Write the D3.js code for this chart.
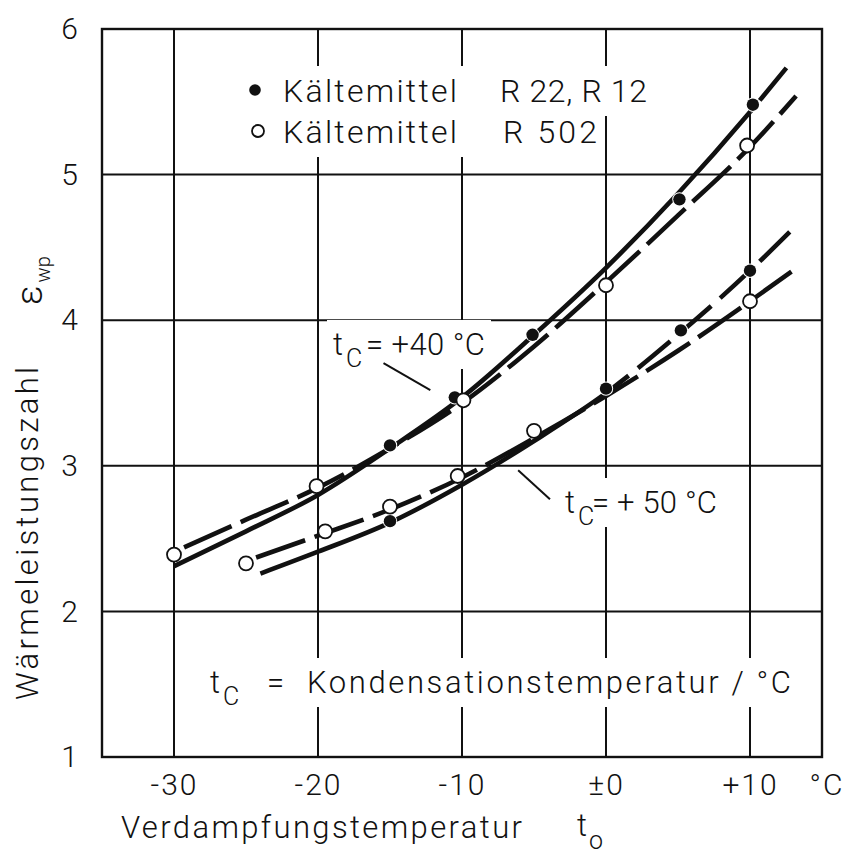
<!DOCTYPE html>
<html>
<head>
<meta charset="utf-8">
<script src="https://cdn.jsdelivr.net/npm/d3@7"></script>
<style>
  body { margin: 0; background: #fff; }
  svg text { font-family: Roboto, "DejaVu Sans", sans-serif; font-weight: 300; fill: #111; }
</style>
</head>
<body>
<svg id="chart" width="852" height="861"></svg>
<script>
// ---- data ----------------------------------------------------------------
// evaporation temperature t0 (°C) -> heat pump coefficient of performance
const xTicks = [-30, -20, -10, 0, 10];
const xTickLabels = ["-30", "-20", "-10", "±0", "+10"];
const yTicks = [1, 2, 3, 4, 5, 6];

// fitted curves, tc = +40 °C
const c40R22X  = [-30, -25, -20, -15, -10, -5, 0, 5, 10, 13];
const c40R22Y  = [2.31, 2.55, 2.80, 3.12, 3.47, 3.90, 4.36, 4.87, 5.43, 5.79];
const c40R502X = [-29.3, -25, -20, -15, -10, -5, 0, 5, 10, 13.2];
const c40R502Y = [2.44, 2.63, 2.85, 3.12, 3.43, 3.82, 4.26, 4.72, 5.19, 5.54];
// fitted curves, tc = +50 °C
const c50R22X  = [-24, -20, -15, -10, -5, 0, 5, 10, 12.9];
const c50R22Y  = [2.26, 2.41, 2.61, 2.87, 3.17, 3.50, 3.90, 4.34, 4.62];
const c50R502X = [-24.3, -20, -15, -10, -5, 0, 5, 10, 13.1];
const c50R502Y = [2.37, 2.52, 2.70, 2.92, 3.19, 3.48, 3.79, 4.13, 4.35];

// measured points, R 22 / R 12 (filled)
const p40R22X  = [-15, -10.5, -5.1, 5.1, 10.2];
const p40R22Y  = [3.14, 3.47, 3.90, 4.83, 5.48];
const p50R22X  = [-15, 0, 5.2, 10];
const p50R22Y  = [2.62, 3.53, 3.93, 4.34];
// measured points, R 502 (open)
const p40R502X = [-30, -20.1, -9.9, 0, 9.8];
const p40R502Y = [2.39, 2.86, 3.45, 4.24, 5.20];
const p50R502X = [-25, -19.5, -15, -10.3, -5, 10];
const p50R502Y = [2.33, 2.55, 2.72, 2.93, 3.24, 4.13];

// ---- setup ---------------------------------------------------------------
const svg = d3.select("#chart");
const x = d3.scaleLinear().domain([-35, 15]).range([102, 822]);
const y = d3.scaleLinear().domain([1, 6]).range([757, 29]);
const zip = (xs, ys) => xs.map((v, i) => [v, ys[i]]);

const gGrid = svg.append("g");
const gKnock = svg.append("g");
const gCurves = svg.append("g");
const gMarks = svg.append("g");
const gText = svg.append("g");

// grid
gGrid.selectAll("line.v").data(xTicks).join("line")
  .attr("x1", d => x(d)).attr("x2", d => x(d))
  .attr("y1", y(1)).attr("y2", y(6))
  .attr("stroke", "#111").attr("stroke-width", 2);
gGrid.selectAll("line.h").data(yTicks.slice(1, -1)).join("line")
  .attr("x1", x(-35)).attr("x2", x(15))
  .attr("y1", d => y(d)).attr("y2", d => y(d))
  .attr("stroke", "#111").attr("stroke-width", 2);
gGrid.append("rect")
  .attr("x", x(-35)).attr("y", y(6))
  .attr("width", x(15) - x(-35)).attr("height", y(1) - y(6))
  .attr("fill", "none").attr("stroke", "#111").attr("stroke-width", 2.4);

// axes (labels only)
const xAxis = d3.axisBottom(x).tickValues(xTicks)
  .tickFormat((d, i) => xTickLabels[i]).tickSize(0).tickPadding(17);
const gx = svg.append("g").attr("transform", `translate(0,${y(1)})`).call(xAxis);
gx.select(".domain").remove();
gx.selectAll("text").attr("font-size", 30).attr("font-family", null)
  .attr("letter-spacing", 2).attr("fill", "#111");
gx.append("text").attr("x", 827).attr("y", 17).attr("dy", "0.71em")
  .attr("text-anchor", "middle").attr("font-size", 30).attr("letter-spacing", 2)
  .text("°C");

const yAxis = d3.axisLeft(y).tickValues(yTicks).tickSize(0).tickPadding(24)
  .tickFormat(d3.format("d"));
const gy = svg.append("g").attr("transform", `translate(${x(-35)},0)`).call(yAxis);
gy.select(".domain").remove();
gy.selectAll("text").attr("font-size", 30).attr("font-family", null)
  .attr("fill", "#111");

// axis titles
svg.append("text").attr("x", 121).attr("y", 838).attr("font-size", 31)
  .attr("textLength", 401).attr("lengthAdjust", "spacing")
  .text("Verdampfungstemperatur");
const t0 = svg.append("text").attr("x", 577).attr("y", 836).attr("font-size", 31);
t0.append("tspan").text("t");
t0.append("tspan").attr("dy", 13).attr("dx", 2).attr("font-size", 25).text("o");

svg.append("text")
  .attr("transform", "translate(38,700) rotate(-90)")
  .attr("font-size", 31).attr("textLength", 333).attr("lengthAdjust", "spacing")
  .text("Wärmeleistungszahl");
const eps = svg.append("text").attr("transform", "translate(42,305) rotate(-90)")
  .attr("font-size", 36);
eps.append("tspan").text("ε");
eps.append("tspan").attr("dy", 8).attr("dx", 3).attr("font-size", 20).text("wp");

// ---- curves --------------------------------------------------------------
const line = d3.line().x(d => x(d[0])).y(d => y(d[1])).curve(d3.curveMonotoneX);
const defs = svg.append("defs");
function clip(id, from, to) {
  defs.append("clipPath").attr("id", id).append("rect")
    .attr("x", x(from)).attr("y", 0)
    .attr("width", x(to) - x(from)).attr("height", 861);
}
clip("solid40", -35, 10.1); clip("dash40", 10.1, 15);
clip("solid50", -35, 0.2);  clip("dash50", 0.2, 15);

const curveStyle = sel => sel.attr("fill", "none").attr("stroke", "#111")
  .attr("stroke-width", 4.6);

// R 22 / R 12: solid within the measured range, dashed extension beyond
[[c40R22X, c40R22Y, "40"], [c50R22X, c50R22Y, "50"]].forEach(([xs, ys, tc]) => {
  const pts = zip(xs, ys);
  gCurves.append("path").datum(pts).attr("d", line).call(curveStyle)
    .attr("clip-path", `url(#solid${tc})`);
  gCurves.append("path").datum(pts).attr("d", line).call(curveStyle)
    .attr("stroke-dasharray", "42,12").attr("clip-path", `url(#dash${tc})`);
});
// R 502: long dashes
[[c40R502X, c40R502Y], [c50R502X, c50R502Y]].forEach(([xs, ys]) => {
  gCurves.append("path").datum(zip(xs, ys)).attr("d", line).call(curveStyle)
    .attr("stroke-dasharray", "52,10");
});

// ---- measured points -----------------------------------------------------
const filled = zip(p40R22X, p40R22Y).concat(zip(p50R22X, p50R22Y));
const open = zip(p40R502X, p40R502Y).concat(zip(p50R502X, p50R502Y));
gMarks.selectAll("circle.f").data(filled).join("circle")
  .attr("cx", d => x(d[0])).attr("cy", d => y(d[1])).attr("r", 6.2)
  .attr("fill", "#111").attr("stroke", "#fff").attr("stroke-width", 2)
  .attr("paint-order", "stroke");
gMarks.selectAll("circle.o").data(open).join("circle")
  .attr("cx", d => x(d[0])).attr("cy", d => y(d[1])).attr("r", 7)
  .attr("fill", "#fff").attr("stroke", "#111").attr("stroke-width", 1.8);

// ---- legend & annotations ------------------------------------------------
const knockouts = [];
function txt(px, py, str, size, len) {
  const t = gText.append("text").attr("x", px).attr("y", py)
    .attr("font-size", size).text(str);
  if (len) t.attr("textLength", len).attr("lengthAdjust", "spacing");
  knockouts.push(t);
  return t;
}
// t with subscript C, followed by the rest of the label
function tcLabel(px, py, rest, restX, restLen) {
  const t = gText.append("text").attr("x", px).attr("y", py).attr("font-size", 31);
  t.append("tspan").text("t");
  t.append("tspan").attr("x", px + 13).attr("dy", 12).attr("font-size", 25).text("C");
  knockouts.push(t);
  txt(restX, py, rest, 31, restLen);
}

gText.append("circle").attr("cx", 255).attr("cy", 90).attr("r", 5.8).attr("fill", "#111");
gText.append("circle").attr("cx", 258).attr("cy", 131).attr("r", 6)
  .attr("fill", "#fff").attr("stroke", "#111").attr("stroke-width", 1.8);
txt(283, 102, "Kältemittel", 32, 174);
txt(500, 102, "R 22, R 12", 32, 147);
txt(283, 143, "Kältemittel", 32, 174);
txt(503, 143, "R 502", 32, 94);

tcLabel(333, 355, "= +40 °C", 366, 119);
tcLabel(565, 513, "= + 50 °C", 592, 125);
tcLabel(210, 693, "=", 267, null);
txt(307, 693, "Kondensationstemperatur / °C", 31, 484);

// leader lines to the curves
gText.append("line").attr("x1", x(-15.45)).attr("y1", y(3.705))
  .attr("x2", x(-12.2)).attr("y2", y(3.52)).attr("stroke", "#111").attr("stroke-width", 2);
gText.append("line").attr("x1", x(-6.1)).attr("y1", y(2.97))
  .attr("x2", x(-3.89)).attr("y2", y(2.77)).attr("stroke", "#111").attr("stroke-width", 2);

// white patches so the grid stops short of the lettering
knockouts.forEach(t => {
  const b = t.node().getBBox();
  gKnock.append("rect").attr("x", b.x - 6).attr("y", b.y - 6)
    .attr("width", b.width + 12).attr("height", b.height + 12).attr("fill", "#fff");
});
</script>
</body>
</html>
